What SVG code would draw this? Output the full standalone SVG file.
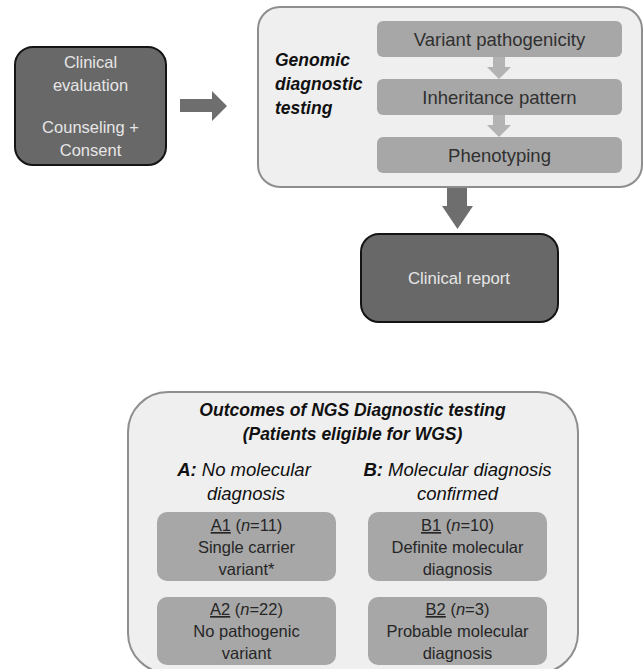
<svg xmlns="http://www.w3.org/2000/svg" width="644" height="669" viewBox="0 0 644 669">
<style>
text{font-family:"Liberation Sans",Arial,sans-serif;text-anchor:middle}
.dark{fill:#686868;stroke:#141414;stroke-width:2}
.panel{fill:#efefef;stroke:#8e8e8e;stroke-width:2}
.step{fill:#a7a7a7}
.wt{fill:#e6e6e6;font-size:16.5px}
.st{fill:#303030;font-size:18.5px}
.hd{font-weight:bold;font-style:italic;font-size:17.5px;fill:#111}
.ab{font-style:italic;font-size:18.5px;fill:#111}
.it{font-size:16.5px;fill:#262626}
.big{fill:#6e6e6e}
.sm{fill:#b3b3b3}
</style>
<rect width="644" height="669" fill="#fff"/>
<g id="clinical-evaluation">
<rect class="dark" x="15" y="47" width="151" height="118" rx="18"/>
<text class="wt" x="90.5" y="68">Clinical</text>
<text class="wt" x="90.5" y="91">evaluation</text>
<text class="wt" x="90.5" y="133">Counseling +</text>
<text class="wt" x="90.5" y="156">Consent</text>
</g>
<g id="genomic-testing">
<rect class="panel" x="258" y="7" width="384" height="180" rx="22"/>
<text class="hd" x="275" y="66" style="text-anchor:start">Genomic</text>
<text class="hd" x="275" y="90" style="text-anchor:start">diagnostic</text>
<text class="hd" x="275" y="114" style="text-anchor:start">testing</text>
</g>
<g id="variant-pathogenicity">
<rect class="step" x="377" y="21" width="245" height="36" rx="6"/>
<text class="st" x="499.5" y="45.5">Variant pathogenicity</text>
</g>
<g id="inheritance-pattern">
<rect class="step" x="377" y="79" width="245" height="36" rx="6"/>
<text class="st" x="499.5" y="103.5">Inheritance pattern</text>
</g>
<g id="phenotyping">
<rect class="step" x="377" y="137" width="245" height="36" rx="6"/>
<text class="st" x="499.5" y="161.5">Phenotyping</text>
</g>
<g id="clinical-report">
<rect class="dark" x="361" y="234" width="197" height="88" rx="18"/>
<text class="wt" x="459" y="284" style="font-size:16.7px">Clinical report</text>
</g>
<g id="connectors">
<polygon class="big" points="180,99 212,99 212,91 227,106 212,121 212,112 180,112"/>
<polygon class="big" points="447,188 467,188 467,206 473,206 457.5,229 442,206 447,206"/>
<polygon class="sm" points="493,57 505,57 505,67 511,67 499,79 487,67 493,67"/>
<polygon class="sm" points="493,115 505,115 505,125 511,125 499,137 487,125 493,125"/>
</g>
<g id="outcomes">
<rect class="panel" x="128" y="392" width="450" height="281" rx="40"/>
<text class="hd" x="352.5" y="416">Outcomes of NGS Diagnostic testing</text>
<text class="hd" x="352.5" y="440">(Patients eligible for WGS)</text>
<text class="ab" x="244" y="476"><tspan font-weight="bold">A:</tspan> No molecular</text>
<text class="ab" x="246" y="500">diagnosis</text>
<text class="ab" x="457.5" y="476"><tspan font-weight="bold">B:</tspan> Molecular diagnosis</text>
<text class="ab" x="457.5" y="500">confirmed</text>
</g>
<g id="a1">
<rect class="step" x="157" y="512" width="179" height="69" rx="10"/>
<text class="it" x="246.5" y="531"><tspan text-decoration="underline">A1</tspan> (<tspan font-style="italic">n</tspan>=11)</text>
<text class="it" x="246.5" y="553">Single carrier</text>
<text class="it" x="246.5" y="575">variant*</text>
</g>
<g id="a2">
<rect class="step" x="157" y="597" width="179" height="68" rx="10"/>
<text class="it" x="246.5" y="615"><tspan text-decoration="underline">A2</tspan> (<tspan font-style="italic">n</tspan>=22)</text>
<text class="it" x="246.5" y="637">No pathogenic</text>
<text class="it" x="246.5" y="659">variant</text>
</g>
<g id="b1">
<rect class="step" x="368" y="512" width="179" height="69" rx="10"/>
<text class="it" x="457.5" y="531"><tspan text-decoration="underline">B1</tspan> (<tspan font-style="italic">n</tspan>=10)</text>
<text class="it" x="457.5" y="553">Definite molecular</text>
<text class="it" x="457.5" y="575">diagnosis</text>
</g>
<g id="b2">
<rect class="step" x="368" y="597" width="179" height="68" rx="10"/>
<text class="it" x="457.5" y="615"><tspan text-decoration="underline">B2</tspan> (<tspan font-style="italic">n</tspan>=3)</text>
<text class="it" x="457.5" y="637">Probable molecular</text>
<text class="it" x="457.5" y="659">diagnosis</text>
</g>
</svg>
